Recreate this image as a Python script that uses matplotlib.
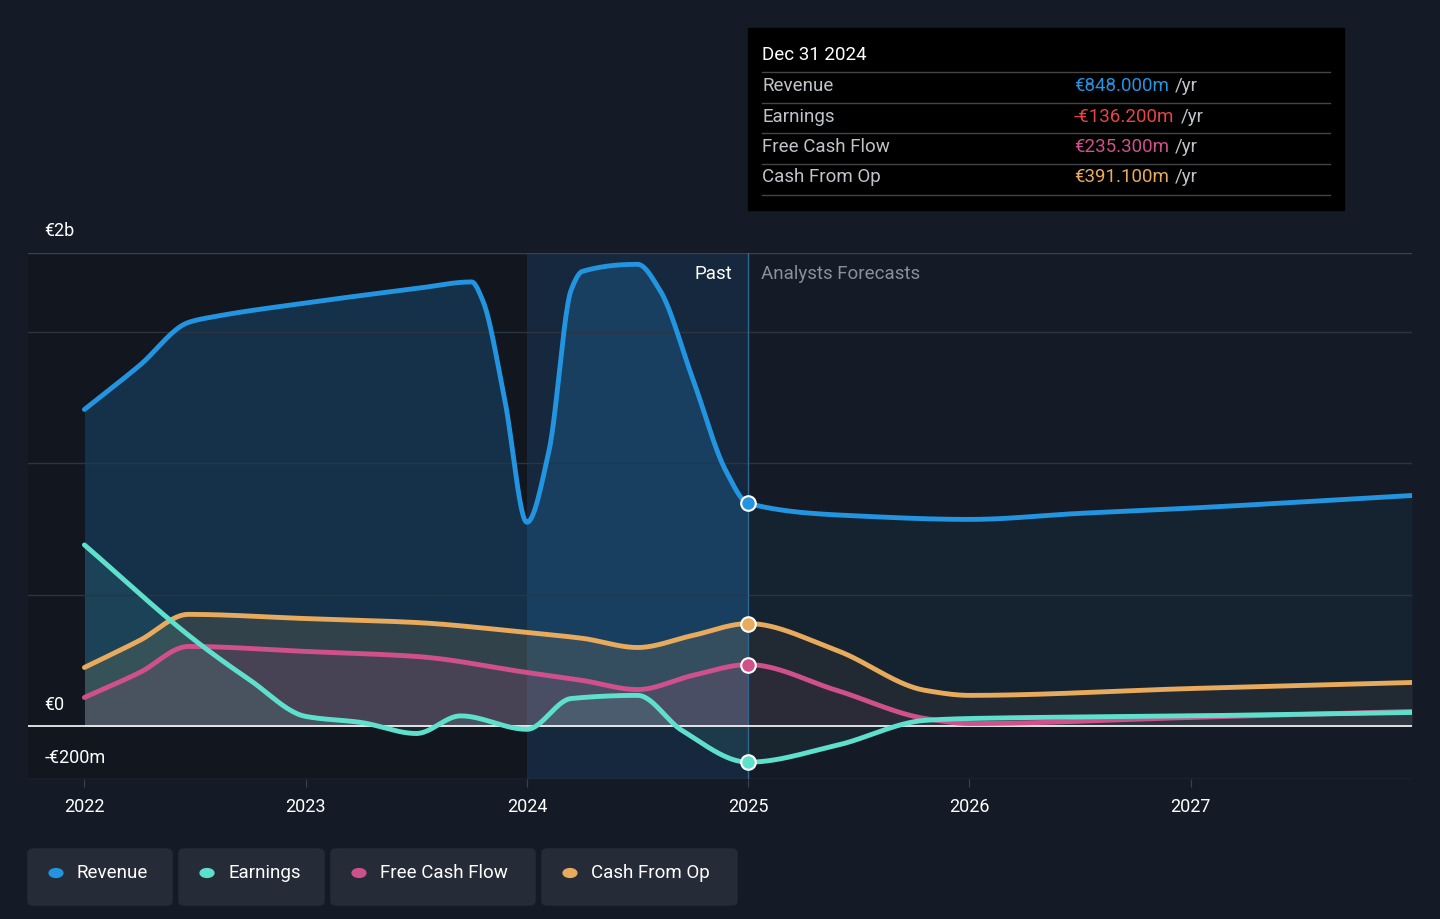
import numpy as np
import matplotlib.pyplot as plt
from matplotlib.patches import FancyBboxPatch, Rectangle

plt.rcParams['font.family'] = ['Roboto', 'DejaVu Sans']

rev_x = [2022.0,2022.25,2022.47,2022.6,2023.0,2023.5,2023.75,2023.8,2023.9,2024.0,2024.1,2024.2,2024.25,2024.5,2024.6,2024.75,2024.9,2025.0,2025.5,2026.0,2026.5,2027.0,2028.0]
rev_y = [1.205,1.373,1.536,1.56,1.61,1.665,1.69,1.62,1.24,0.776,1.05,1.66,1.73,1.757,1.66,1.32,0.97,0.848,0.80,0.787,0.81,0.83,0.878]
earn_x = [2022.0,2022.5,2022.75,2023.0,2023.25,2023.5,2023.7,2024.0,2024.2,2024.5,2024.7,2025.0,2025.4,2025.8,2026.0,2027.0,2028.0]
earn_y = [0.69,0.327,0.175,0.038,0.015,-0.027,0.04,-0.011,0.106,0.118,-0.015,-0.136,-0.072,0.023,0.03,0.04,0.053]
fcf_x = [2022.0,2022.25,2022.47,2023.0,2023.5,2024.0,2024.25,2024.5,2024.75,2025.0,2025.4,2025.8,2026.0,2027.0,2028.0]
fcf_y = [0.11,0.205,0.304,0.285,0.266,0.205,0.175,0.14,0.194,0.235,0.137,0.03,0.011,0.034,0.057]
cfo_x = fcf_x
cfo_y = [0.224,0.327,0.426,0.41,0.395,0.357,0.335,0.30,0.346,0.391,0.289,0.137,0.118,0.144,0.167]

def pchip(x, y, xs):
    x = np.asarray(x, float); y = np.asarray(y, float)
    h = np.diff(x); d = np.diff(y) / h
    m = np.zeros_like(y)
    for k in range(1, len(x)-1):
        if d[k-1]*d[k] > 0:
            w1 = 2*h[k]+h[k-1]; w2 = h[k]+2*h[k-1]
            m[k] = (w1+w2)/(w1/d[k-1]+w2/d[k])
    m[0] = d[0]; m[-1] = d[-1]
    i = np.clip(np.searchsorted(x, xs)-1, 0, len(x)-2)
    t = (xs-x[i])/h[i]
    h00 = 2*t**3-3*t**2+1; h10 = t**3-2*t**2+t; h01 = -2*t**3+3*t**2; h11 = t**3-t**2
    return h00*y[i]+h10*h[i]*m[i]+h01*y[i+1]+h11*h[i]*m[i+1]

bg = '#151b26'
fig = plt.figure(figsize=(14.4, 9.19), dpi=100, facecolor=bg)
ax = fig.add_axes([28/1440, 140/919, 1384/1440, 526/919])
ax.set_facecolor(bg)
ax.set_xlim(2021.745, 2028.0)
ax.set_ylim(-0.2, 1.8)

ax.axvspan(2021.745, 2024.0, color='#0f131b', alpha=0.6, lw=0)
ax.axvspan(2024.0, 2025.0, color='#15314d', alpha=0.6, lw=0)
for g in [0.5, 1.0, 1.5]:
    ax.axhline(g, color='#2c3440', lw=1)
ax.axhline(1.8, color='#3a414c', lw=1)
ax.axhline(-0.2, color='#3a414c', lw=1)
ax.axhline(0, color='white', lw=1.2, zorder=3)
ax.axvline(2025.0, color='#2f6690', lw=1, zorder=2)

series = [(rev_x, rev_y, '#2394df', 0.22), (cfo_x, cfo_y, '#e8aa5c', 0.14),
          (fcf_x, fcf_y, '#d0508c', 0.14), (earn_x, earn_y, '#5fe0cc', 0.1)]
for xs_, ys_, c, a in series:
    xx = np.linspace(xs_[0], xs_[-1], 1500)
    yy = pchip(xs_, ys_, xx)
    past = xx <= 2025.0
    ax.fill_between(xx[past], 0, yy[past], color=c, alpha=a, lw=0, zorder=1)
    ax.fill_between(xx[~past], 0, yy[~past], color=c, alpha=0.06, lw=0, zorder=1)
    ax.plot(xx, yy, color=c, lw=3.5, zorder=4, solid_capstyle='round')
    y25 = pchip(xs_, ys_, np.array([2025.0]))[0]
    ax.scatter([2025.0], [y25], s=110, color=c, edgecolor='white', lw=1.5, zorder=6)

for s in ax.spines.values():
    s.set_visible(False)
ax.set_yticks([])
ax.set_xticks([2022, 2023, 2024, 2025, 2026, 2027])
ax.set_xticklabels(['2022', '2023', '2024', '2025', '2026', '2027'])
ax.tick_params(axis='x', colors='white', labelsize=13, length=6, color='#3a414c', pad=8)

ax.text(2021.82, 1.885, '€2b', color='white', fontsize=13, va='center')
ax.text(2021.82, 0.08, '€0', color='white', fontsize=13, va='center')
ax.text(2021.82, -0.12, '-€200m', color='white', fontsize=13, va='center')
ax.text(2024.93, 1.72, 'Past', color='white', fontsize=13.5, ha='right', va='center')
ax.text(2025.06, 1.72, 'Analysts Forecasts', color='#8a9099', fontsize=13.5, ha='left', va='center')

fig.patches.append(Rectangle((748/1440, 1-210/919), 596/1440, 182/919, transform=fig.transFigure, color='black', zorder=10))
fig.text(762/1440, 1-55/919, 'Dec 31 2024', color='white', fontsize=13.5, va='center', zorder=11)
rows = [('Revenue', '€848.000m', '#2394df'), ('Earnings', '-€136.200m', '#e84545'),
        ('Free Cash Flow', '€235.300m', '#d0508c'), ('Cash From Op', '€391.100m', '#e8aa5c')]
fig.canvas.draw()
r = fig.canvas.get_renderer()
for i, (lab, val, c) in enumerate(rows):
    yp = 86 + i*30.5
    fig.lines.append(plt.Line2D([762/1440, 1330/1440], [1-(yp-14)/919]*2, transform=fig.transFigure, color='#444', lw=1, zorder=11))
    fig.text(762/1440, 1-yp/919, lab, color='#c0c4ca', fontsize=13.5, va='center', zorder=11)
    t = fig.text(1074/1440, 1-yp/919, val, color=c, fontsize=13.5, va='center', zorder=11)
    w = t.get_window_extent(renderer=r).width
    fig.text((1074 + w + 6)/1440, 1-yp/919, '/yr', color='#c0c4ca', fontsize=13.5, va='center', zorder=11)
fig.lines.append(plt.Line2D([762/1440, 1330/1440], [1-195/919]*2, transform=fig.transFigure, color='#444', lw=1, zorder=11))

items = [('Revenue', '#2394df', 28, 172), ('Earnings', '#5fe0cc', 179, 324),
         ('Free Cash Flow', '#d0508c', 331, 535), ('Cash From Op', '#e8aa5c', 542, 737)]
for lab, c, x0, x1 in items:
    fig.patches.append(FancyBboxPatch((x0/1440, 1-905/919), (x1-x0)/1440, 56/919, boxstyle='round,pad=0,rounding_size=0.004',
                                      transform=fig.transFigure, color='#252c38', zorder=10))
    fig.patches.append(plt.Circle(((x0+28)/1440, 1-873/919), 0.0048, transform=fig.transFigure, color=c, zorder=11))
    fig.text((x0+49)/1440, 1-873/919, lab, color='white', fontsize=13.5, va='center', zorder=11)

fig.savefig('out.png', dpi=100, facecolor=bg)
